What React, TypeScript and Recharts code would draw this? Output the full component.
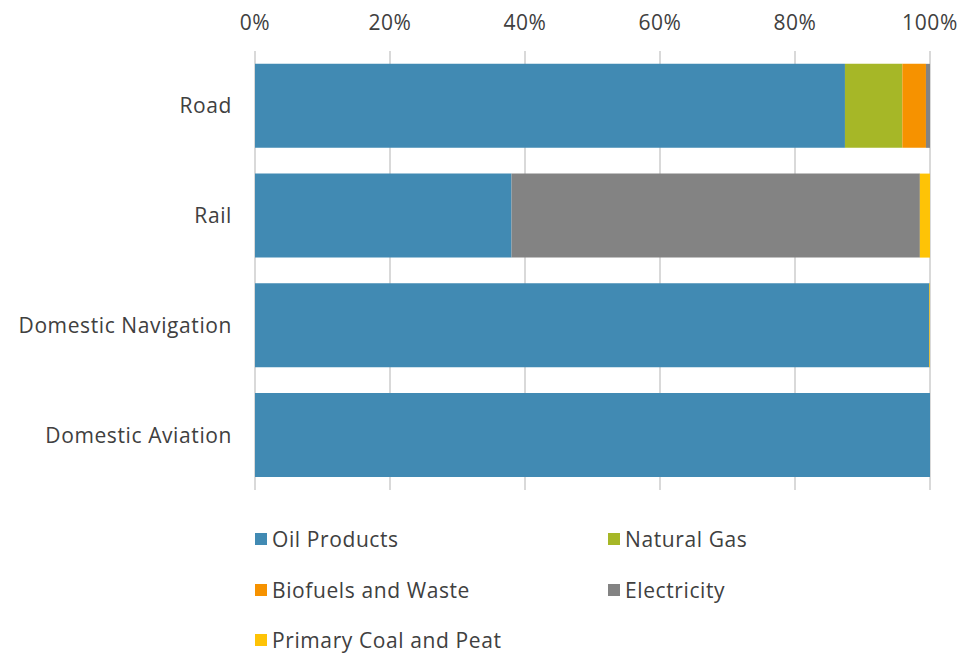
import { BarChart, Bar, XAxis, YAxis, CartesianGrid, Legend } from "recharts";

const categories = ["Road", "Rail", "Domestic Navigation", "Domestic Aviation"];
const oilProducts = [87.4, 38.0, 99.9, 100];
const naturalGas = [8.5, 0, 0, 0];
const biofuelsWaste = [3.5, 0, 0, 0];
const electricity = [0.6, 60.5, 0, 0];
const coalPeat = [0, 1.5, 0.1, 0];
const percentTicks = [0, 20, 40, 60, 80, 100];

const series = [
  { key: "oil", name: "Oil Products", color: "#418AB3" },
  { key: "gas", name: "Natural Gas", color: "#A6B727" },
  { key: "bio", name: "Biofuels and Waste", color: "#F69200" },
  { key: "elec", name: "Electricity", color: "#838383" },
  { key: "coal", name: "Primary Coal and Peat", color: "#FEC306" },
];

const data = categories.map((name, i) => ({
  name,
  oil: oilProducts[i],
  gas: naturalGas[i],
  bio: biofuelsWaste[i],
  elec: electricity[i],
  coal: coalPeat[i],
}));

const FONT = "'Open Sans', Lato, sans-serif";
const TEXT = "#404040";
const tickStyle = { fill: TEXT, fontSize: 21, fontFamily: FONT, letterSpacing: 0.6 };

// two-column legend, laid out like the original
const legendSlots = [
  { x: 255, y: 49 },
  { x: 608, y: 49 },
  { x: 255, y: 100 },
  { x: 608, y: 100 },
  { x: 255, y: 150 },
];

function LegendGrid() {
  return (
    <div style={{ position: "relative", width: 969, height: 166 }}>
      {series.map((s, i) => (
        <div
          key={s.key}
          style={{
            position: "absolute",
            left: legendSlots[i].x,
            top: legendSlots[i].y - 14,
            height: 28,
            display: "flex",
            alignItems: "center",
            fontFamily: FONT,
            fontSize: 21,
            letterSpacing: 0.6,
            color: TEXT,
            whiteSpace: "nowrap",
          }}
        >
          <span style={{ width: 12, height: 12, background: s.color, marginRight: 5, display: "inline-block" }} />
          {s.name}
        </div>
      ))}
    </div>
  );
}

export default function App() {
  return (
    <div style={{ position: "absolute", left: 0, top: 0, background: "#fff" }}>
      <BarChart
        width={969}
        height={656}
        data={data}
        layout="vertical"
        margin={{ top: 0, right: 39, bottom: 0, left: 0 }}
        barCategoryGap="11.7%"
      >
        <CartesianGrid horizontal={false} stroke="#d9d9d9" strokeWidth={2} />
        <XAxis
          type="number"
          orientation="top"
          domain={[0, 100]}
          ticks={percentTicks}
          tickFormatter={(v) => `${v}%`}
          height={51}
          axisLine={false}
          tickLine={false}
          tickSize={0}
          tickMargin={21}
          interval={0}
          tick={tickStyle}
        />
        <YAxis
          type="category"
          dataKey="name"
          width={255}
          axisLine={false}
          tickLine={false}
          tickSize={0}
          tickMargin={23}
          tick={tickStyle}
        />
        <Legend verticalAlign="bottom" height={166} content={() => <LegendGrid />} />
        {series.map((s) => (
          <Bar
            key={s.key}
            dataKey={s.key}
            name={s.name}
            stackId="a"
            fill={s.color}
            isAnimationActive={false}
          />
        ))}
      </BarChart>
    </div>
  );
}
